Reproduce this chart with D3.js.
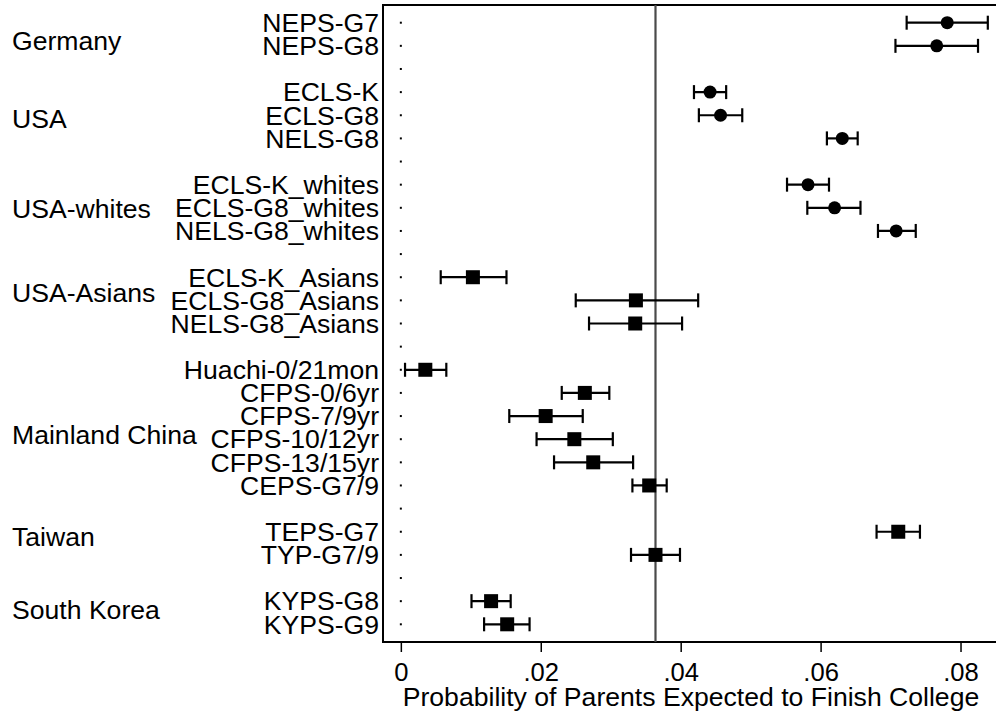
<!DOCTYPE html>
<html>
<head>
<meta charset="utf-8">
<script src="https://cdn.jsdelivr.net/npm/d3@7"></script>
<style>
  body { margin: 0; background: #fff; }
  text { font-family: "Liberation Sans", Arial, sans-serif; fill: #000; }
</style>
</head>
<body>
<div id="chart"></div>
<script>
// --- data ---
const rowLabels = [
  "NEPS-G7", "NEPS-G8", "",
  "ECLS-K", "ECLS-G8", "NELS-G8", "",
  "ECLS-K_whites", "ECLS-G8_whites", "NELS-G8_whites", "",
  "ECLS-K_Asians", "ECLS-G8_Asians", "NELS-G8_Asians", "",
  "Huachi-0/21mon", "CFPS-0/6yr", "CFPS-7/9yr", "CFPS-10/12yr", "CFPS-13/15yr", "CEPS-G7/9", "",
  "TEPS-G7", "TYP-G7/9", "",
  "KYPS-G8", "KYPS-G9"
];
const estimate = [
  0.0781, 0.0766, null,
  0.0442, 0.0457, 0.0631, null,
  0.0582, 0.0620, 0.0708, null,
  0.0103, 0.0336, 0.0335, null,
  0.0035, 0.0263, 0.0207, 0.0248, 0.0275, 0.0355, null,
  0.0711, 0.0364, null,
  0.0129, 0.0152
];
const lower = [
  0.0723, 0.0707, null,
  0.0419, 0.0426, 0.0609, null,
  0.0552, 0.0581, 0.0682, null,
  0.0057, 0.0250, 0.0269, null,
  0.0006, 0.0230, 0.0155, 0.0194, 0.0219, 0.0331, null,
  0.0680, 0.0329, null,
  0.0101, 0.0119
];
const upper = [
  0.0839, 0.0825, null,
  0.0465, 0.0488, 0.0653, null,
  0.0612, 0.0657, 0.0736, null,
  0.0151, 0.0425, 0.0402, null,
  0.0065, 0.0298, 0.0260, 0.0303, 0.0332, 0.0380, null,
  0.0742, 0.0399, null,
  0.0157, 0.0184
];
// western samples drawn as circles, the rest as squares
const markerType = rowLabels.map((d, i) => (i < 10 ? "circle" : "square"));

const groupNames = ["Germany", "USA", "USA-whites", "USA-Asians", "Mainland China", "Taiwan", "South Korea"];
const groupRow = [0.79, 4.15, 8.04, 11.66, 17.79, 22.2, 25.36];

const xTicks = [0, 0.02, 0.04, 0.06, 0.08];
const refValue = 0.0364;
const xTitle = "Probability of Parents Expected to Finish College";

// --- setup ---
const width = 996, height = 719;
const plot = { left: 383, right: 999, top: 5, bottom: 642 };
const fontSize = 26.6;
const tickFont = 25.6;

const svg = d3.select("#chart").append("svg")
  .attr("width", width)
  .attr("height", height);

const x = d3.scaleLinear()
  .domain([-0.00255, 0.0855])
  .range([plot.left, plot.right]);

const y = d3.scaleLinear()
  .domain([-0.765, rowLabels.length - 1 + 0.765])
  .range([plot.top, plot.bottom]);

const rows = rowLabels.map((label, i) => ({
  label, i,
  est: estimate[i], lo: lower[i], hi: upper[i],
  type: markerType[i]
}));

// frame (right side falls just outside the picture)
svg.append("rect")
  .attr("x", plot.left)
  .attr("y", plot.top)
  .attr("width", plot.right - plot.left)
  .attr("height", plot.bottom - plot.top)
  .attr("fill", "none")
  .attr("stroke", "#000")
  .attr("stroke-width", 2);

// reference line
svg.append("line")
  .attr("x1", x(refValue)).attr("x2", x(refValue))
  .attr("y1", plot.top).attr("y2", plot.bottom)
  .attr("stroke", "#4a4a4a")
  .attr("stroke-width", 2.2);

// tiny anchor dots at zero for every row
svg.append("g").selectAll("rect")
  .data(rows)
  .join("rect")
  .attr("x", x(0) - 1)
  .attr("y", d => y(d.i) - 1)
  .attr("width", 2)
  .attr("height", 2)
  .attr("fill", "#000");

// x axis
const xAxis = d3.axisBottom(x)
  .tickValues(xTicks)
  .tickSize(10)
  .tickPadding(11)
  .tickFormat(d => (d === 0 ? "0" : d3.format(".2f")(d).replace(/^0/, "")));

const gx = svg.append("g")
  .attr("transform", `translate(0,${plot.bottom})`)
  .call(xAxis);
gx.select(".domain").remove();
gx.selectAll(".tick line").attr("stroke", "#000").attr("stroke-width", 1.5);
gx.selectAll(".tick text")
  .attr("font-size", tickFont)
  .attr("font-family", "'Liberation Sans', Arial, sans-serif")
  .attr("fill", "#000");

svg.append("text")
  .attr("x", (plot.left + plot.right) / 2)
  .attr("y", 706)
  .attr("text-anchor", "middle")
  .attr("font-size", fontSize)
  .text(xTitle);

// row labels
svg.append("g").selectAll("text")
  .data(rows.filter(d => d.label !== ""))
  .join("text")
  .attr("x", 379)
  .attr("y", d => y(d.i) + 9.3)
  .attr("text-anchor", "end")
  .attr("font-size", fontSize)
  .text(d => d.label);

// group labels
svg.append("g").selectAll("text")
  .data(groupNames)
  .join("text")
  .attr("x", 12)
  .attr("y", (d, i) => y(groupRow[i]) + 9.3)
  .attr("font-size", fontSize)
  .text(d => d);

// confidence intervals
const ci = rows.filter(d => d.est !== null);
const capH = 7;
const bars = svg.append("g")
  .attr("stroke", "#000")
  .attr("stroke-width", 2.2);

bars.selectAll("line.span")
  .data(ci)
  .join("line")
  .attr("class", "span")
  .attr("x1", d => x(d.lo)).attr("x2", d => x(d.hi))
  .attr("y1", d => y(d.i)).attr("y2", d => y(d.i));

bars.selectAll("line.capl")
  .data(ci)
  .join("line")
  .attr("class", "capl")
  .attr("x1", d => x(d.lo)).attr("x2", d => x(d.lo))
  .attr("y1", d => y(d.i) - capH).attr("y2", d => y(d.i) + capH);

bars.selectAll("line.caph")
  .data(ci)
  .join("line")
  .attr("class", "caph")
  .attr("x1", d => x(d.hi)).attr("x2", d => x(d.hi))
  .attr("y1", d => y(d.i) - capH).attr("y2", d => y(d.i) + capH);

// point estimates
svg.append("g").selectAll("circle")
  .data(ci.filter(d => d.type === "circle"))
  .join("circle")
  .attr("cx", d => x(d.est))
  .attr("cy", d => y(d.i))
  .attr("r", 6.5)
  .attr("fill", "#000");

const sq = 14;
svg.append("g").selectAll("rect")
  .data(ci.filter(d => d.type === "square"))
  .join("rect")
  .attr("x", d => x(d.est) - sq / 2)
  .attr("y", d => y(d.i) - sq / 2)
  .attr("width", sq)
  .attr("height", sq)
  .attr("fill", "#000");
</script>
</body>
</html>
